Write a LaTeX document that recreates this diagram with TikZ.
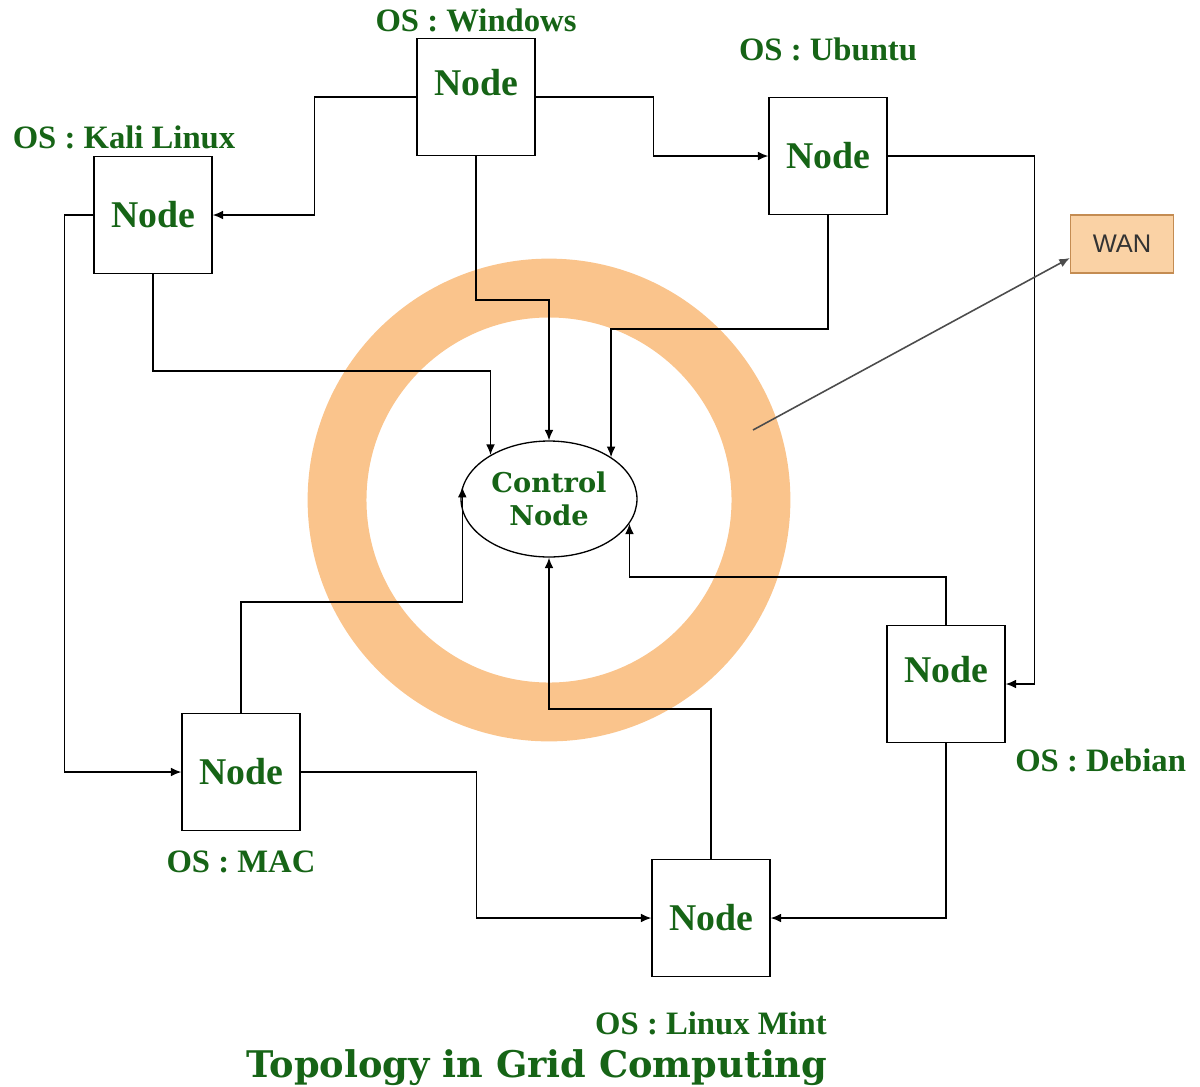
\documentclass[tikz,border=0pt]{standalone}
\usepackage{fontspec}
\setmainfont{Liberation Serif}
\newfontfamily\dvserif{DejaVu Serif}
\newfontfamily\wansans{Liberation Sans}
\usetikzlibrary{positioning,arrows.meta,shapes.geometric}
\definecolor{osgreen}{RGB}{22,100,22}
\definecolor{ringorange}{RGB}{250,196,140}
\definecolor{wanfill}{RGB}{250,210,165}
\definecolor{wanline}{RGB}{196,140,82}
\newcommand{\os}[1]{OS : #1}

\begin{document}
\begin{tikzpicture}[x=0.02cm,y=-0.02cm,->,>={Latex[length=6pt,width=5pt]},line width=0.75pt,
  box/.style={draw,rectangle,minimum width=2.36cm,minimum height=2.34cm,inner sep=0pt,
    text=osgreen,font=\fontsize{21.5}{24}\selectfont\bfseries},
  raised/.style={text depth=0.58cm},
  oslbl/.style={inner sep=0pt,text=osgreen,font=\fontsize{18.6}{21}\selectfont\bfseries},
  ctrlnode/.style={draw,ellipse,minimum width=3.52cm,minimum height=2.32cm,inner sep=0pt,
    align=center,text=osgreen,font=\dvserif\fontsize{15.5}{18.7}\selectfont\bfseries}]
  \useasboundingbox (0,0) rectangle (1200,1086);
  \draw[-,ringorange,line width=33.5pt] (549,500) circle[radius=4.24cm];

  \node[box,raised] (win) at (476,97) {Node};
  \node[box] (ubu) at (828,156) {Node};
  \node[box] (kali) at (153,215) {Node};
  \node[box] (mac) at (241,772) {Node};
  \node[box] (mint) at (711,918) {Node};
  \node[box,raised] (deb) at (946,684) {Node};
  \node[ctrlnode] (ctrl) at (549,499) {Control\\Node};
  \node[draw=wanline,fill=wanfill,minimum width=2.06cm,minimum height=1.16cm,
    font=\wansans\fontsize{14.5}{16}\selectfont,text=black!80] (wan) at (1122,244) {WAN};
  \coordinate (tap) at (753,430);

  \node[oslbl] (winlbl) [above=0.1cm of win] {\os{Windows}};
  \node[oslbl] (ubulbl) [above=0.7cm of ubu] {\os{Ubuntu}};
  \node[oslbl] (kalilbl) [above=0.12cm of kali,xshift=-0.58cm] {\os{Kali Linux}};
  \node[oslbl] (maclbl) [below=0.38cm of mac] {\os{MAC}};
  \node[oslbl] (mintlbl) [below=0.68cm of mint] {\os{Linux Mint}};
  \node[oslbl] (deblbl) [below right=0.1cm and 0.18cm of deb.south east] {\os{Debian}};
  \node[text=osgreen,font=\dvserif\fontsize{20.9}{24}\selectfont\bfseries] (title) at (537,1068)
    {Topology in Grid Computing};

  \draw (win.west) -- ++(-102,0) |- (kali.east);
  \draw (win.east) -- ++(118,0) |- (ubu.west);
  \draw (win.south) -- ++(0,144) -| (ctrl.north);
  \draw (ubu.south) -- ++(0,114) -| (ctrl.34);
  \draw (kali.south) -- ++(0,97) -| (ctrl.143);
  \draw (kali.west) -- ++(-29,0) |- (mac.west);
  \draw (mac.north) -- ++(0,-111) -| (ctrl.172);
  \draw (mac.east) -- ++(176,0) |- (mint.west);
  \draw (mint.north) -- ++(0,-150) -| (ctrl.south);
  \draw (deb.north) -- ++(0,-48) -| (ctrl.-17);
  \draw (ubu.east) -- ++(147,0) |- (deb.east);
  \draw (deb.south) |- (mint.east);
  \draw[black!70,line width=0.9pt] (tap) -- (wan.195);
\end{tikzpicture}
\end{document}
